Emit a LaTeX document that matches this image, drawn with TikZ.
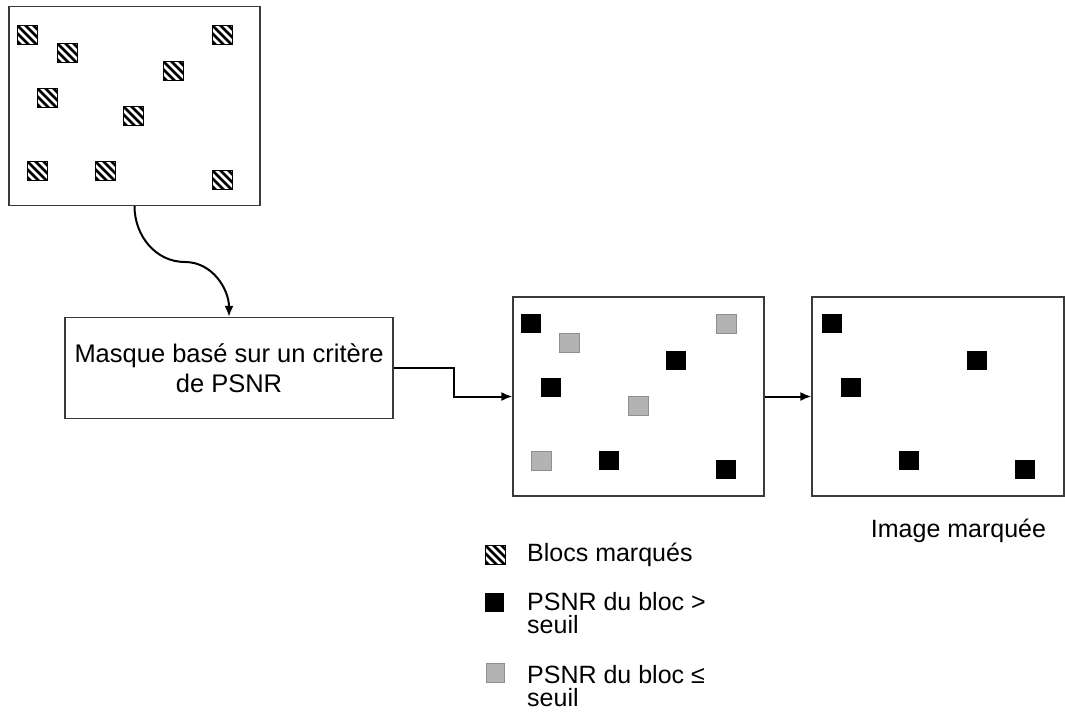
\documentclass[tikz,border=0pt]{standalone}
\usepackage{fontspec}
\setmainfont{Liberation Sans}
\usetikzlibrary{arrows.meta}
\definecolor{boxline}{HTML}{3A3A3A}
\definecolor{lowgray}{HTML}{B3B3B3}
\tikzset{
  imgbox/.style={draw=boxline, line width=1.2pt, minimum width=251pt, minimum height=199pt, inner sep=0pt},
  maskbox/.style={draw=boxline, line width=1.2pt, minimum width=328pt, minimum height=101pt, inner sep=0pt, align=center, font=\fontsize{25.5}{30}\selectfont},
  lbl/.style={font=\fontsize{25}{30}\selectfont, inner sep=0pt},
  conn/.style={line width=2pt, -{Latex[length=11pt,width=9pt]}},
  hatchbox/.pic={
    \begin{scope}
      \clip (0,0) rectangle (20,19);
      \foreach \d in {-16,-8,0,8,16} \draw[line width=2.8pt] (\d-5,-5) -- (\d+25,25);
    \end{scope}
    \draw[line width=0.8pt] (0,0) rectangle (20,19);
  },
  hiblk/.style={fill=black},
  loblk/.style={fill=lowgray, draw=lowgray!80!black, line width=0.5pt}
}
\begin{document}
\begin{tikzpicture}[x=1pt,y=-1pt]
\useasboundingbox (0,0) rectangle (1065,713);
% boxes
\node[imgbox] (img1) at (134.5,106) {};
\node[maskbox] (mask) at (229,368) {Masque basé sur un critère\\de PSNR};
\node[imgbox] (img2) at (638.5,396.5) {};
\node[imgbox, minimum width=252pt] (img3) at (938,396.5) {};
% hatched blocks in first image
\foreach \x/\y in {17/25,57/43,212/25,163/61,37/88,123/106,27/161,95/161,212/170}
  \pic at (\x,\y) {hatchbox};
% second image
\foreach \x/\y in {521/314,666/351,541/378,599/451,716/460}
  \fill[hiblk] (\x,\y) rectangle ++(20,19);
\foreach \x/\y in {559/333,716/314,628/396,531/451}
  \filldraw[loblk] (\x,\y) rectangle ++(20,19);
% third image
\foreach \x/\y in {822/314,967/351,841/378,899/451,1015/460}
  \fill[hiblk] (\x,\y) rectangle ++(20,19);
% connectors
\draw[conn] (img1.south) to[out=-90,in=180] (185,262) to[out=0,in=90] (mask.north);
\draw[conn] (mask.east) -- ++(60,0) |- (img2.west);
\draw[conn] (img2.east) -- (img3.west);
% caption
\node[lbl, anchor=base] (cap) at (958.5,537) {Image marquée};
% legend
\pic at (485,545) {hatchbox};
\node[lbl, anchor=base west] (lg1) at (527,561) {Blocs marqués};
\fill[hiblk] (485,593) rectangle ++(19,19);
\node[lbl, anchor=base west, align=left, font=\fontsize{25}{23}\selectfont] (lg2) at (527,633) {PSNR du bloc >\\seuil};
\filldraw[loblk] (486,663) rectangle ++(18,19);
\node[lbl, anchor=base west, align=left, font=\fontsize{25}{23}\selectfont] (lg3) at (527,706) {PSNR du bloc ≤\\seuil};
\end{tikzpicture}
\end{document}
